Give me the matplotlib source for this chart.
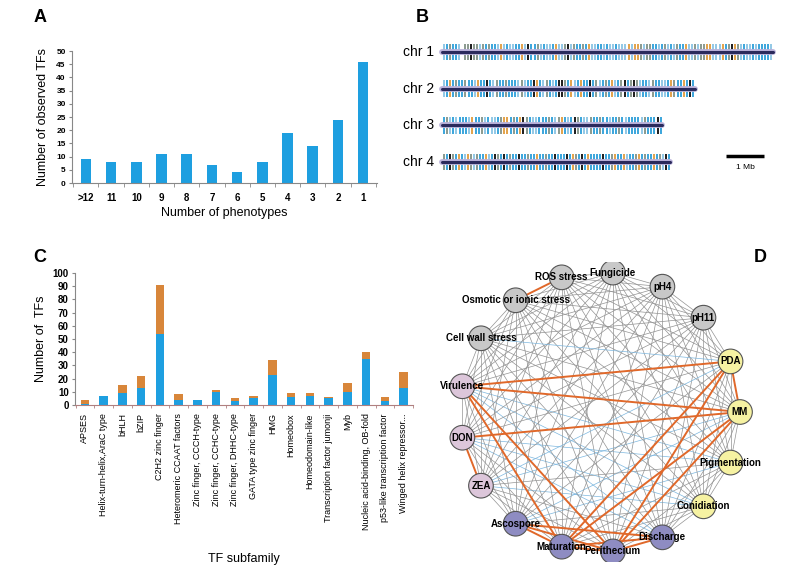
import numpy as np
import matplotlib.pyplot as plt
from matplotlib.patches import Circle

plt.rcParams['font.family'] = ['Liberation Sans', 'DejaVu Sans']

# ---- panel A: number of phenotypes per TF
phenotype_counts = ['>12', '11', '10', '9', '8', '7', '6', '5', '4', '3', '2', '1']
observed_tfs = [9, 8, 8, 11, 11, 7, 4, 8, 19, 14, 24, 46]

# ---- panel B: TF loci along chromosomes (one char per position, '.' = none)
chrom_names = ['chr 1', 'chr 2', 'chr 3', 'chr 4']
chrom_lengths_mb = [8.7, 6.65, 5.8, 6.0]
chrom_marks = [
    'lbgbbl.ggkgglgbgbblolbllbbolkbbglbllbollgklgbbgbollbblbllblllolooglggbblbglblgbbollglggoolllobgkoglbllblbbbbl',
    'lbobgbbgbblobbkblgbbgbbblglbbkoblgblbkkgbolbobbkbglbgbolbgkbgkglbblgbbllbogbbobkb',
    'bglblbbblobbglbllbgoobgbokgbllbbbgblgoblbkgbllgbbgbblbbgblbbbblgbbbkb',
    'gbkgbobloglgbbolbkgbkbgbbkbbgbbobbgbbkbbbkbogbkbobbbbkbbgobbolbbgobgbbobglkb',
]
scale_bar_mb = 1.0

# ---- panel C: TFs per subfamily
subfamilies = ['APSES', 'Helix-turn-helix,AraC type', 'bHLH', 'bZIP', 'C2H2 zinc finger',
               'Heteromeric CCAAT factors', 'Zinc finger, CCCH-type', 'Zinc finger, CCHC-type',
               'Zinc finger, DHHC-type', 'GATA type zinc finger', 'HMG', 'Homeobox',
               'Homeodomain-like', 'Transcription factor jumonji', 'Myb',
               'Nucleic acid-binding, OB-fold', 'p53-like transcription factor',
               'Winged helix repressor...']
tfs_blue = [1, 7, 9, 13, 54, 4, 4, 10, 3, 5, 23, 6, 7, 5, 10, 35, 3, 13]
tfs_orange = [3, 0, 6, 9, 37, 4, 0, 1, 2, 2, 11, 3, 2, 1, 7, 5, 3, 12]

# ---- panel D: phenotype network (circular order)
phenotypes = ['MM', 'Pigmentation', 'Conidiation', 'Discharge', 'Perithecium', 'Maturation',
              'Ascospore', 'ZEA', 'DON', 'Virulence', 'Cell wall stress',
              'Osmotic or ionic stress', 'ROS stress', 'Fungicide', 'pH4', 'pH11', 'PDA']
phenotype_group = ['growth', 'growth', 'growth', 'sexual', 'sexual', 'sexual', 'sexual',
                   'toxin', 'toxin', 'toxin', 'stress', 'stress', 'stress', 'stress',
                   'stress', 'stress', 'growth']
strong_links = [('Osmotic or ionic stress', 'ROS stress'), ('Virulence', 'PDA'),
                ('Virulence', 'MM'), ('DON', 'MM'), ('Virulence', 'Maturation'),
                ('Virulence', 'Perithecium'), ('DON', 'ZEA'), ('PDA', 'MM'),
                ('PDA', 'Maturation'), ('PDA', 'Perithecium'), ('MM', 'Maturation'),
                ('MM', 'Perithecium'), ('Ascospore', 'Maturation'), ('Ascospore', 'Perithecium'),
                ('Ascospore', 'Discharge'), ('Maturation', 'Perithecium'),
                ('Maturation', 'Discharge'), ('Perithecium', 'Discharge')]
blue_links = [('Virulence', 'Conidiation'), ('DON', 'Pigmentation'), ('ZEA', 'Conidiation'),
              ('DON', 'Discharge'), ('ZEA', 'MM'), ('Virulence', 'Discharge'),
              ('Ascospore', 'Pigmentation'), ('Cell wall stress', 'PDA'), ('ZEA', 'PDA'),
              ('DON', 'Conidiation'), ('Ascospore', 'MM'), ('Virulence', 'Pigmentation')]

BLUE = '#1E9FE0'
ORANGE = '#D8863A'
W, H = 808, 571


def px_axes(fig, x0, y0, x1, y1):
    return fig.add_axes([x0 / W, 1 - y1 / H, (x1 - x0) / W, (y1 - y0) / H])


def panel_label(fig, x, y, s):
    fig.text(x / W, 1 - y / H, s, fontsize=13, fontweight='bold', ha='center', va='center')


fig = plt.figure(figsize=(W / 100, H / 100), dpi=100)

# ================= A
axA = px_axes(fig, 72, 51, 377, 183)
xa = np.arange(len(phenotype_counts))
axA.bar(xa, observed_tfs, width=0.42, color=BLUE)
axA.set_xlim(-0.55, len(xa) - 0.45)
axA.set_ylim(0, 50)
axA.set_yticks(range(0, 51, 5))
axA.set_xticks(xa)
axA.set_xticklabels(phenotype_counts, fontsize=7, fontweight='bold')
axA.set_xticks(np.arange(-0.5, len(xa), 1), minor=True)
axA.tick_params(axis='x', which='major', length=0, pad=7)
axA.tick_params(axis='x', which='minor', length=3, color='#888888')
axA.tick_params(axis='y', labelsize=6, length=2.5, color='#888888', pad=2)
for lab in axA.get_yticklabels():
    lab.set_fontweight('bold')
for s in ['top', 'right']:
    axA.spines[s].set_visible(False)
for s in ['left', 'bottom']:
    axA.spines[s].set_color('#888888')
axA.set_ylabel('Number of observed TFs', fontsize=9, labelpad=5)
axA.set_xlabel('Number of phenotypes', fontsize=9, labelpad=3)
panel_label(fig, 40, 17, 'A')

# ================= B
axB = px_axes(fig, 400, 30, 800, 180)
px_per_mb = 38.0
axB.set_xlim((400 - 442) / px_per_mb, (800 - 442) / px_per_mb)
axB.set_ylim(3 + 18 / 36.7, -22 / 36.7)
axB.axis('off')
mark_colors = {'b': '#3AA5DC', 'l': '#92C8E6', 'o': '#E3A24A', 'k': '#1B1B1B', 'g': '#8A9A8E'}
for row, (name, length, marks) in enumerate(zip(chrom_names, chrom_lengths_mb, chrom_marks)):
    xs, cs = [], []
    for i, c in enumerate(marks):
        if c == '.':
            continue
        xs.append((i + 0.5) / len(marks) * length)
        cs.append(mark_colors[c])
    axB.vlines(xs, row - 0.23, row + 0.23, colors=cs, lw=1.4)
    axB.plot([0, length], [row, row], color='#B9B2DA', lw=4.2, solid_capstyle='round')
    axB.plot([0, length], [row, row], color='#2A2A5C', lw=2.2, solid_capstyle='round')
    axB.text(-0.2, row, name, ha='right', va='center', fontsize=10)
sb_x = (726 - 442) / px_per_mb
axB.plot([sb_x, sb_x + scale_bar_mb], [2.84, 2.84], color='black', lw=2.5, solid_capstyle='butt')
axB.text(sb_x + scale_bar_mb / 2, 3.14, '1 Mb', ha='center', va='center', fontsize=6)
panel_label(fig, 422, 17, 'B')

# ================= C
axC = px_axes(fig, 75, 273, 413, 405)
xc = np.arange(len(subfamilies))
axC.bar(xc, tfs_blue, width=0.45, color=BLUE)
axC.bar(xc, tfs_orange, width=0.45, bottom=tfs_blue, color=ORANGE)
axC.set_xlim(-0.53, len(xc) - 0.53)
axC.set_ylim(0, 100)
axC.set_yticks(range(0, 101, 10))
axC.set_xticks(xc)
axC.set_xticklabels(subfamilies, rotation=90, fontsize=6.5)
axC.set_xticks(np.arange(-0.5, len(xc), 1), minor=True)
axC.tick_params(axis='x', which='major', length=0, pad=6)
axC.tick_params(axis='x', which='minor', length=2.5, color='#B08080')
axC.tick_params(axis='y', labelsize=7, length=2.5, color='#888888', pad=2)
for lab in axC.get_yticklabels():
    lab.set_fontweight('bold')
for s in ['top', 'right']:
    axC.spines[s].set_visible(False)
axC.spines['left'].set_color('#888888')
axC.spines['bottom'].set_color('#B08080')
axC.set_ylabel('Number of  TFs', fontsize=9, labelpad=4)
axC.set_xlabel('TF subfamily', fontsize=9, labelpad=16)
panel_label(fig, 40, 258, 'C')

# ================= D
axD = px_axes(fig, 420, 262, 780, 562)
axD.set_xlim(-180 / 140, 180 / 140)
axD.set_ylim(-150 / 140, 150 / 140)
axD.axis('off')
n = len(phenotypes)
ang = np.deg2rad(np.arange(n) * 360.0 / n)
pos = {p: (np.cos(a), -np.sin(a)) for p, a in zip(phenotypes, ang)}
strong = {frozenset(e) for e in strong_links}
blue = {frozenset(e) for e in blue_links}
for i in range(n):
    for j in range(i + 1, n):
        e = frozenset((phenotypes[i], phenotypes[j]))
        if e in strong:
            continue
        (x0, y0), (x1, y1) = pos[phenotypes[i]], pos[phenotypes[j]]
        col = '#7DB7DF' if e in blue else '#939393'
        axD.plot([x0, x1], [y0, y1], color=col, lw=0.5, zorder=1)
for a, b in strong_links:
    (x0, y0), (x1, y1) = pos[a], pos[b]
    axD.plot([x0, x1], [y0, y1], color='#E0682A', lw=1.4, zorder=2)
group_colors = {'stress': '#C8C8C8', 'growth': '#F6F2A2', 'toxin': '#DCC6DA', 'sexual': '#8E8CC2'}
for p, g in zip(phenotypes, phenotype_group):
    x, y = pos[p]
    axD.add_patch(Circle((x, y), 0.088, facecolor=group_colors[g], edgecolor='#555555',
                         lw=0.8, zorder=3))
    axD.text(x, y, p, ha='center', va='center', fontsize=7, fontweight='bold', zorder=4)
panel_label(fig, 760, 258, 'D')

fig.savefig('out.png', dpi=100)
